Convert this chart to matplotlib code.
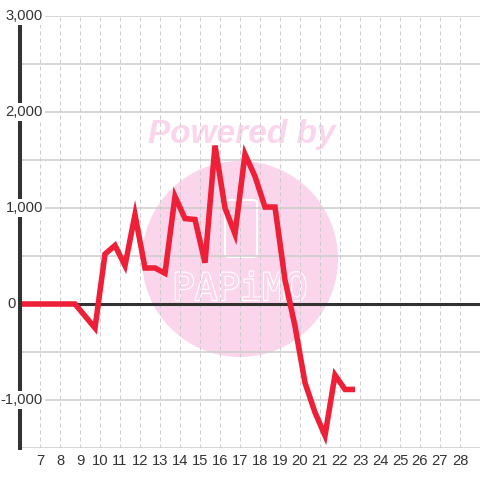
import matplotlib
matplotlib.use("Agg")
import matplotlib.pyplot as plt
from matplotlib.patches import Ellipse, FancyBboxPatch
import matplotlib.patheffects as pe

# ---- data ----
x_vals = [6.0, 6.25, 6.75, 7.25, 7.75, 8.25, 8.75, 9.25, 9.75, 10.25, 10.75, 11.25, 11.75,
          12.25, 12.75, 13.25, 13.75, 14.25, 14.75, 15.25, 15.75, 16.25, 16.75,
          17.25, 17.75, 18.25, 18.75, 19.25, 19.75, 20.25, 20.75, 21.25, 21.75,
          22.25, 22.75]
y_vals = [0, 0, 0, 0, 0, 0, 0, -125, -250, 520, 610, 400, 930,
          375, 375, 320, 1120, 890, 880, 430, 1650, 1000, 730,
          1560, 1330, 1010, 1010, 250, -230, -820, -1130, -1370, -740,
          -890, -890]
x_ticks = list(range(7, 29))
y_ticks = [3000, 2000, 1000, 0, -1000]
y_tick_labels = ["3,000", "2,000", "1,000", "0", "-1,000"]
y_grid = [3000, 2500, 2000, 1500, 1000, 500, -500, -1000, -1500]

plt.rcParams['font.family'] = ['Liberation Sans', 'DejaVu Sans']
W = H = 480
fig = plt.figure(figsize=(4.8, 4.8), dpi=100)
L, R, T, B = 20, 480, 16, 448
ax = fig.add_axes([L / W, (H - B) / H, (R - L) / W, (B - T) / H])
ax.set_xlim(6, 29)
ax.set_ylim(-1500, 3000)

def ax_xy(px, py):
    return ((px - L) / (R - L), (B - py) / (B - T))

# watermark
pink = '#FBD5EC'
cx, cy = ax_xy(240, 259)
ax.add_patch(Ellipse((cx, cy), 196 / (R - L), 196 / (B - T), transform=ax.transAxes,
                     facecolor=pink, edgecolor='none', zorder=0.2))
px_, py_ = ax_xy(242, 135)
ax.text(px_, py_, "Powered by", transform=ax.transAxes, ha='center', va='center',
        fontsize=24, fontweight='bold', fontstyle='italic', color=pink, zorder=0.2,
        family=['Liberation Sans', 'DejaVu Sans'])
gx0, gy0 = ax_xy(225, 257)
gx1, gy1 = ax_xy(257, 200)
ax.add_patch(FancyBboxPatch((gx0, gy0), gx1 - gx0, gy1 - gy0, transform=ax.transAxes,
                            boxstyle="round,pad=0,rounding_size=0.008",
                            facecolor='none', edgecolor='white', lw=1.5, zorder=0.3))
sx0, sy0 = ax_xy(241, 200)
sx1, sy1 = ax_xy(241, 192)
ax.plot([sx0, sx1], [sy0, sy1], transform=ax.transAxes, color='white', lw=1.5, zorder=0.3)
tx, ty = ax_xy(240, 290)
ax.text(tx, ty, "PAPiMO", transform=ax.transAxes, ha='center', va='center',
        fontsize=27, color=pink, zorder=0.3, family=['DejaVu Sans Mono'],
        path_effects=[pe.Stroke(linewidth=1.6, foreground='white'), pe.Normal()])

# grid
for g in y_grid:
    ax.axhline(g, color='#cccccc', lw=1.1, zorder=1)
for xv in x_ticks:
    ax.axvline(xv, color='#cccccc', lw=0.72, linestyle=(0, (4, 3)), zorder=1)
ax.axhline(0, color='#333333', lw=2.2, zorder=2)

# data line
ax.plot(x_vals, y_vals, color='#EE1F36', lw=4.0, solid_joinstyle='miter',
        solid_capstyle='butt', zorder=3)

# spines
for s in ['top', 'right', 'bottom']:
    ax.spines[s].set_visible(False)
ax.spines['left'].set_color('#333333')
ax.spines['left'].set_linewidth(2.9)
ax.spines['left'].set_zorder(4)

ax.set_xticks(x_ticks)
ax.set_xticklabels([str(v) for v in x_ticks])
ax.tick_params(axis='x', length=0, pad=4, labelsize=10.6, labelcolor='#333333')
ax.set_yticks([])

for v, lab in zip(y_ticks, y_tick_labels):
    xr = 43 if lab != "0" else 16
    ax.text((xr - L) / (R - L), v, lab, transform=ax.get_yaxis_transform(),
            ha='right', va='center', fontsize=10.6, color='#333333', zorder=5,
            bbox=dict(facecolor='white', edgecolor='none', pad=1.5), clip_on=False)

fig.savefig("out.png", dpi=100)
